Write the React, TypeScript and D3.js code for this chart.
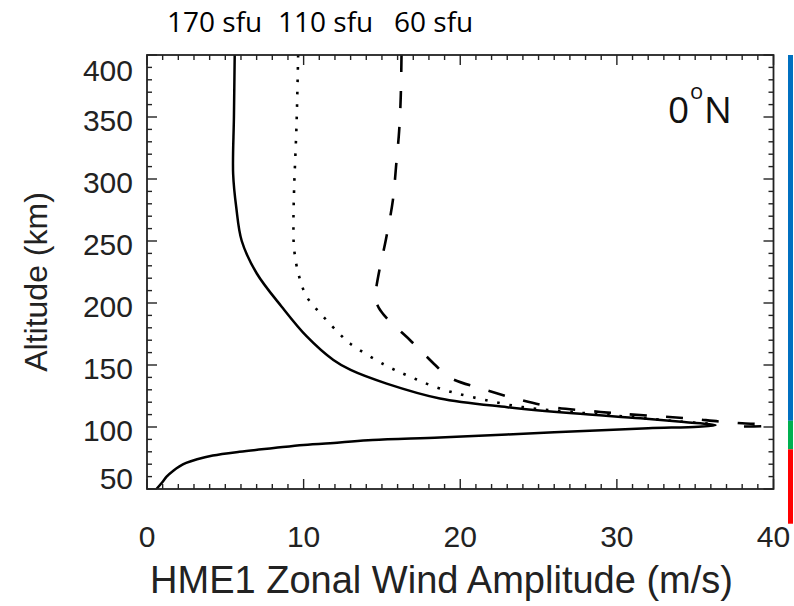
import React from 'react';
import * as d3 from 'd3';

// ---- Data ----
const xTickValues = [0, 10, 20, 30, 40];
const yTickValues = [50, 100, 150, 200, 250, 300, 350, 400];
const fluxLabels = ['170 sfu', '110 sfu', '60 sfu'];
const latitudeLabel = '0';

// shared lower branch (below the peak), altitude km / amplitude m/s
const altLower = [100.3, 99, 96.5, 94, 91.5, 89.5, 87.5, 85.5, 83, 80, 77, 74, 71, 68, 65, 60, 55, 50];
const windLower = [35.2, 32, 27.5, 23, 18.7, 14.4, 12.3, 10, 8.1, 5.9, 4.2, 3.2, 2.5, 2.05, 1.7, 1.25, 0.95, 0.6];

// 170 sfu upper branch (solid)
const alt170 = [400, 350, 304, 277, 250, 224, 197, 173, 154, 146, 135, 123, 116, 111, 107, 104, 101.5];
const wind170 = [5.6, 5.55, 5.5, 5.7, 6.05, 7.0, 8.6, 10.2, 11.9, 13.0, 15.3, 18.7, 23.0, 27.2, 31.5, 34.3, 36.3];

// 110 sfu upper branch (dotted)
const alt110 = [400, 345, 291, 264, 244, 224, 205, 189, 175, 167, 150, 140, 131, 124, 116, 112, 108, 104.5, 102.3];
const wind110 = [9.65, 9.55, 9.39, 9.35, 9.39, 9.66, 10.2, 11.26, 12.3, 13.0, 15.2, 16.9, 18.7, 20.8, 24.0, 27.2, 31.0, 34.0, 36.3];

// 60 sfu upper branch (dashed)
const alt60 = [400, 366, 339, 310, 283, 251, 224, 210, 202, 196, 190, 184, 177, 170, 160, 150, 140, 130, 122, 116, 113, 110.5, 107, 104.5, 103, 102, 101, 100.4];
const wind60 = [16.25, 16.2, 16.1, 15.9, 15.7, 15.25, 14.8, 14.62, 14.62, 14.8, 15.15, 15.6, 16.2, 16.8, 17.6, 18.4, 19.3, 21.6, 23.8, 25.9, 28.2, 30.5, 34.5, 36.5, 38.0, 39.3, 39.6, 38.0];

// right-hand colour bar segments (altitude ranges, km)
const barSegments = [
  { from: 105, to: 400, color: '#0070C0' },
  { from: 82, to: 105, color: '#00B050' },
  { from: 22, to: 82, color: '#FF0000' },
];

type P = { a: number; w: number };
const zip = (alts: number[], winds: number[]): P[] => alts.map((a, i) => ({ a, w: winds[i] }));

export default function App() {
  const W = 794, H = 606;
  const L = 147, R = 773.5, T = 55, B = 489;
  const x = d3.scaleLinear().domain([0, 40]).range([L, R]);
  const y = d3.scaleLinear().domain([50, 400]).range([B, T]);

  const line = d3.line<P>().x(d => x(d.w)).y(d => y(d.a)).curve(d3.curveCatmullRom.alpha(0.5));

  const lower = zip(altLower, windLower);
  const s170 = [...zip(alt170, wind170), ...lower];
  const s110 = zip(alt110, wind110);
  const s60 = zip(alt60, wind60);

  const xMinor = d3.range(0, 41, 1);
  const yMinor = d3.range(50, 401, 10);
  const axisColor = '#222';
  const font = 'Liberation Sans, Arial, Helvetica, sans-serif';

  const yLabelPos = (v: number) => Math.min(Math.max(y(v) + 3, T + 15), B - 11);

  return (
    <svg width={W} height={H} style={{ position: 'absolute', left: 0, top: 0, background: '#fff' }}>
      <defs>
        <clipPath id="plotClip">
          <rect x={L} y={T} width={R - L} height={B - T} />
        </clipPath>
      </defs>
      <rect x={0} y={0} width={W} height={H} fill="#fff" />

      {/* flux labels */}
      <g fontFamily="Open Sans, sans-serif" fontSize={28} fill="#000">
        <text x={167} y={32}>{fluxLabels[0]}</text>
        <text x={278} y={32}>{fluxLabels[1]}</text>
        <text x={394} y={32}>{fluxLabels[2]}</text>
      </g>

      {/* curves */}
      <g clipPath="url(#plotClip)" fill="none" stroke="#000">
        <path d={line(s170) || ''} strokeWidth={2.5} strokeLinejoin="round" />
        <path d={line(s110) || ''} strokeWidth={2.6} strokeDasharray="2.6 9.7" />
        <path d={line(s60) || ''} strokeWidth={2.6} strokeDasharray="17 19" />
      </g>

      {/* frame */}
      <rect x={L} y={T} width={R - L} height={B - T} fill="none" stroke={axisColor} strokeWidth={1.8} />

      {/* ticks */}
      <g stroke={axisColor} strokeWidth={1.4}>
        {xMinor.map(v => {
          const len = v % 10 === 0 ? 10 : 5;
          return (
            <g key={'xt' + v}>
              <line x1={x(v)} x2={x(v)} y1={B} y2={B - len} />
              <line x1={x(v)} x2={x(v)} y1={T} y2={T + len} />
            </g>
          );
        })}
        {yMinor.map(v => {
          const len = v % 50 === 0 ? 10 : 5;
          return (
            <g key={'yt' + v}>
              <line x1={L} x2={L + len} y1={y(v)} y2={y(v)} />
              <line x1={R} x2={R - len} y1={y(v)} y2={y(v)} />
            </g>
          );
        })}
      </g>

      {/* tick labels */}
      <g fontFamily={font} fontSize={30} fill="#222">
        {xTickValues.map(v => (
          <text key={'xl' + v} x={x(v)} y={547} textAnchor="middle">{v}</text>
        ))}
        {yTickValues.map(v => (
          <text key={'yl' + v} x={133} y={yLabelPos(v)} textAnchor="end" dominantBaseline="central">{v}</text>
        ))}
      </g>

      {/* axis titles */}
      <text x={441.5} y={593} textAnchor="middle" fontFamily={font} fontSize={38} fill="#222">
        HME1 Zonal Wind Amplitude (m/s)
      </text>
      <text transform="translate(47,282) rotate(-90)" textAnchor="middle" fontFamily={font} fontSize={32} fill="#222">
        Altitude (km)
      </text>

      {/* latitude label */}
      <g fontFamily="Open Sans, sans-serif" fill="#111">
        <text x={668} y={123} fontSize={37}>{latitudeLabel}</text>
        <text x={690} y={99} fontSize={22}>o</text>
        <text x={704} y={123} fontSize={37}>N</text>
      </g>

      {/* colour bar */}
      {barSegments.map((s, i) => (
        <rect key={'bar' + i} x={788} y={y(s.to)} width={5} height={y(s.from) - y(s.to)} fill={s.color} />
      ))}
    </svg>
  );
}
